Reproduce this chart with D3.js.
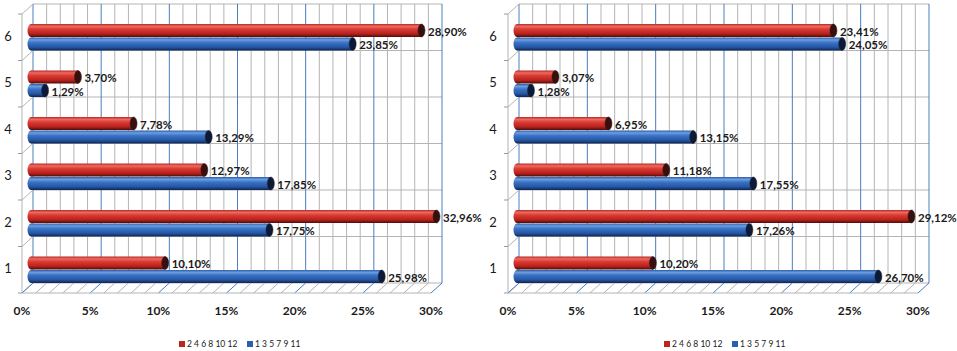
<!DOCTYPE html>
<html>
<head>
<meta charset="utf-8">
<script src="https://cdn.jsdelivr.net/npm/d3@7"></script>
<style>
  html, body { margin: 0; padding: 0; background: #fff; }
  svg { display: block; font-family: Lato, 'Open Sans', sans-serif; }
</style>
</head>
<body>
<svg id="chart" width="957" height="351"></svg>
<script>
const categories = ['1', '2', '3', '4', '5', '6'];
const seriesNames = ['2 4 6 8 10 12', '1 3 5 7 9 11'];
const leftEven = [10.10, 32.96, 12.97, 7.78, 3.70, 28.90];
const leftOdd = [25.98, 17.75, 17.85, 13.29, 1.29, 23.85];
const rightEven = [10.20, 29.12, 11.18, 6.95, 3.07, 23.41];
const rightOdd = [26.70, 17.26, 17.55, 13.15, 1.28, 24.05];
const xTicks = [0, 5, 10, 15, 20, 25, 30];
const xMax = 30;

const COLORS = { grid: '#b4b4b4', major: '#4a7ebf', text: '#1a1a1a' };
const DEPTH = { dx: -11, dy: 10 };

const svg = d3.select('#chart');
const defs = svg.append('defs');

// cylinder shading
function cylGradient(id, stops) {
    const g = defs.append('linearGradient').attr('id', id)
        .attr('x1', 0).attr('y1', 0).attr('x2', 0).attr('y2', 1);
    stops.forEach(([o, c]) => g.append('stop').attr('offset', o).attr('stop-color', c));
}
cylGradient('grad-red', [[0, '#b52822'], [0.18, '#ee6a60'], [0.4, '#d93b33'], [0.75, '#b8221c'], [1, '#4e0c0a']]);
cylGradient('grad-blue', [[0, '#2a5ca8'], [0.18, '#6d9ee0'], [0.4, '#3a72c4'], [0.75, '#2556a4'], [1, '#0e2550']]);

const fmt = v => d3.format('.2f')(v).replace('.', ',') + '%';

function drawPanel(opts) {
    const { backLeft, backRight, top, bottom, even, odd, labelX, legendX } = opts;
    const g = svg.append('g');

    const x = d3.scaleLinear().domain([0, xMax]).range([backLeft, backRight]);
    const y = d3.scaleBand().domain(categories.slice().reverse()).range([top, bottom]);
    const inner = d3.scaleBand().domain(['even', 'odd']).range([15, 42]);

    const minor = d3.range(0, xMax + 1, 1);
    const bounds = y.domain().map(c => y(c)).concat([bottom]);

    // back wall grid
    g.selectAll('.hgrid').data(bounds).join('line')
        .attr('x1', backLeft).attr('x2', backRight).attr('y1', d => d).attr('y2', d => d)
        .attr('stroke', COLORS.grid).attr('stroke-width', 1);
    g.selectAll('.vgrid').data(minor).join('line')
        .attr('x1', d => x(d)).attr('x2', d => x(d)).attr('y1', top).attr('y2', bottom)
        .attr('stroke', d => d % 5 === 0 ? COLORS.major : COLORS.grid).attr('stroke-width', 1);

    // side wall
    const fx = backLeft + DEPTH.dx;
    g.append('line').attr('x1', fx).attr('x2', fx).attr('y1', top + DEPTH.dy).attr('y2', bottom + DEPTH.dy)
        .attr('stroke', COLORS.grid);
    g.selectAll('.sdiag').data(bounds).join('line')
        .attr('x1', backLeft).attr('y1', d => d).attr('x2', fx).attr('y2', d => d + DEPTH.dy)
        .attr('stroke', COLORS.grid);
    g.selectAll('.stick').data(bounds).join('line')
        .attr('x1', fx - 4).attr('x2', fx).attr('y1', d => d + DEPTH.dy).attr('y2', d => d + DEPTH.dy)
        .attr('stroke', '#999');

    // floor
    g.selectAll('.fdiag').data(minor).join('line')
        .attr('x1', d => x(d)).attr('y1', bottom).attr('x2', d => x(d) + DEPTH.dx).attr('y2', bottom + DEPTH.dy)
        .attr('stroke', d => d % 5 === 0 ? COLORS.major : COLORS.grid);
    g.append('line').attr('x1', x(0) + DEPTH.dx).attr('x2', x(xMax) + DEPTH.dx)
        .attr('y1', bottom + DEPTH.dy).attr('y2', bottom + DEPTH.dy).attr('stroke', COLORS.grid);

    // x tick labels
    g.selectAll('.xlab').data(xTicks).join('text')
        .attr('x', d => x(d) + DEPTH.dx).attr('y', bottom + 29)
        .attr('text-anchor', 'middle').attr('dominant-baseline', 'middle')
        .style('font-size', '12px').style('font-weight', 'bold').style('fill', COLORS.text)
        .text(d => d + '%');

    // category labels
    g.selectAll('.ylab').data(categories).join('text')
        .attr('x', labelX).attr('y', d => y(d) + y.bandwidth() / 2 + DEPTH.dy)
        .attr('text-anchor', 'middle').attr('dominant-baseline', 'middle')
        .style('font-size', '13px').style('fill', COLORS.text)
        .text(d => d);

    // cylinders at mid depth
    const xm = v => x(Math.min(v, xMax)) + DEPTH.dx / 2;
    const rows = [];
    categories.forEach((c, i) => {
        rows.push({ c, key: 'even', v: even[i], grad: 'grad-red', cap: '#3a0e0c' });
        rows.push({ c, key: 'odd', v: odd[i], grad: 'grad-blue', cap: '#0c1a38' });
    });
    const bar = g.selectAll('.bar').data(rows).join('g')
        .attr('transform', d => `translate(0,${y(d.c) + DEPTH.dy / 2 + inner(d.key)})`);
    const h = inner.bandwidth() - 0.5;
    const rx = 3.5;
    bar.append('ellipse')
        .attr('cx', xm(0) + rx).attr('cy', h / 2).attr('rx', rx).attr('ry', h / 2)
        .attr('fill', d => `url(#${d.grad})`);
    bar.append('rect')
        .attr('x', xm(0) + rx).attr('y', 0).attr('width', d => Math.max(0, xm(d.v) - xm(0) - rx)).attr('height', h)
        .attr('fill', d => `url(#${d.grad})`);
    bar.append('ellipse')
        .attr('cx', d => xm(d.v)).attr('cy', h / 2).attr('rx', rx).attr('ry', h / 2)
        .attr('fill', d => d.cap).attr('stroke', '#222').attr('stroke-width', 0.5);
    bar.append('text')
        .attr('x', d => xm(d.v) + rx + 3).attr('y', h / 2 + 2.5)
        .attr('dominant-baseline', 'middle')
        .style('font-size', '11.5px').style('font-weight', 'bold').style('fill', COLORS.text)
        .text(d => fmt(d.v));

    // legend
    const leg = g.append('g').attr('transform', `translate(${legendX},344)`);
    const items = [
        { name: seriesNames[0], color: '#b8281f', off: 0 },
        { name: seriesNames[1], color: '#2a5fae', off: 68 }
    ];
    items.forEach(it => {
        leg.append('rect').attr('x', it.off).attr('y', -3).attr('width', 6).attr('height', 6).attr('fill', it.color);
        leg.append('text').attr('x', it.off + 8).attr('y', 0.5).attr('dominant-baseline', 'middle')
            .style('font-size', '8.5px').style('fill', COLORS.text).text(it.name);
    });
}

drawPanel({ backLeft: 33, backRight: 442, top: 4, bottom: 283, even: leftEven, odd: leftOdd, labelX: 8, legendX: 179 });
drawPanel({ backLeft: 519, backRight: 929, top: 4, bottom: 283, even: rightEven, odd: rightOdd, labelX: 493, legendX: 664 });
</script>
</body>
</html>
